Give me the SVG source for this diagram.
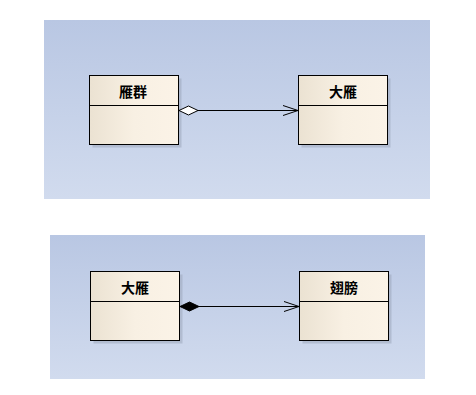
<svg xmlns="http://www.w3.org/2000/svg" width="476" height="395" viewBox="0 0 476 395">
  <defs>
    <linearGradient id="bg" x1="0" y1="0" x2="0" y2="1">
      <stop offset="0" stop-color="#b9c7e3"/>
      <stop offset="1" stop-color="#d1dbee"/>
    </linearGradient>
    <linearGradient id="cls" x1="0" y1="0" x2="1" y2="0">
      <stop offset="0" stop-color="#ebe2d2"/>
      <stop offset="0.5" stop-color="#f8f0e3"/>
      <stop offset="1" stop-color="#fbf3e7"/>
    </linearGradient>
    <marker id="open" markerWidth="16" markerHeight="12" refX="15" refY="6" orient="auto" markerUnits="userSpaceOnUse">
      <path d="M0,1 L15,6 L0,11" fill="none" stroke="#000" stroke-width="1"/>
    </marker>
    <marker id="agg" markerWidth="22" markerHeight="12" refX="1" refY="6" orient="auto" markerUnits="userSpaceOnUse">
      <path d="M1,6 L10.5,1.5 L20,6 L10.5,10.5 Z" fill="#fff" stroke="#000" stroke-width="1"/>
    </marker>
    <marker id="comp" markerWidth="22" markerHeight="12" refX="1" refY="6" orient="auto" markerUnits="userSpaceOnUse">
      <path d="M1,6 L10.5,1.5 L20,6 L10.5,10.5 Z" fill="#000" stroke="#000" stroke-width="1"/>
    </marker>
  </defs>
  <style>
    .panel { fill: url(#bg); }
    .shadow { fill: #9aa4b8; opacity: 0.5; }
    .box { fill: url(#cls); stroke: #000; stroke-width: 1; }
    .div { stroke: #000; stroke-width: 1; }
    .name { font-family: "Noto Sans CJK SC", "Noto Sans CJK TC", sans-serif; font-size: 14px; font-weight: bold; fill: #000; text-anchor: middle; }
    .edge { stroke: #000; stroke-width: 1; fill: none; }
  </style>
  <rect width="476" height="395" fill="#fff"/>
  <rect class="panel" x="44" y="20" width="386" height="179"/>
  <rect class="panel" x="50" y="235" width="375" height="144"/>

  <g id="n_yanqun">
    <rect class="shadow" x="92.5" y="78.5" width="89" height="69"/>
    <rect class="box" x="89.5" y="75.5" width="89" height="69"/>
    <line class="div" x1="89.5" y1="105.5" x2="178.5" y2="105.5"/>
    <text class="name" x="133" y="97">雁群</text>
  </g>
  <g id="n_dayan1">
    <rect class="shadow" x="301.5" y="78.5" width="89" height="69"/>
    <rect class="box" x="298.5" y="75.5" width="89" height="69"/>
    <line class="div" x1="298.5" y1="105.5" x2="387.5" y2="105.5"/>
    <text class="name" x="343" y="97">大雁</text>
  </g>
  <g id="n_dayan2">
    <rect class="shadow" x="93.5" y="274.5" width="89" height="69"/>
    <rect class="box" x="90.5" y="271.5" width="89" height="69"/>
    <line class="div" x1="90.5" y1="301.5" x2="179.5" y2="301.5"/>
    <text class="name" x="135" y="293">大雁</text>
  </g>
  <g id="n_chibang">
    <rect class="shadow" x="302.5" y="274.5" width="89" height="69"/>
    <rect class="box" x="299.5" y="271.5" width="89" height="69"/>
    <line class="div" x1="299.5" y1="301.5" x2="388.5" y2="301.5"/>
    <text class="name" x="344" y="293">翅膀</text>
  </g>

  <g id="connectors">
    <line class="edge" x1="179" y1="110.5" x2="298" y2="110.5" marker-start="url(#agg)" marker-end="url(#open)"/>
    <line class="edge" x1="180" y1="306.5" x2="299" y2="306.5" marker-start="url(#comp)" marker-end="url(#open)"/>
  </g>
</svg>
